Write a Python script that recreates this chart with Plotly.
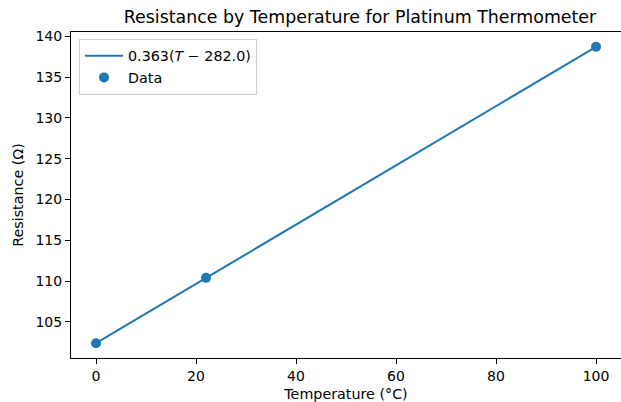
import plotly.graph_objects as go

temps = [0, 22, 100]
resist = [102.4, 110.4, 138.7]
fit_x = [0, 100]
fit_y = [102.4, 138.7]
x_ticks = [0, 20, 40, 60, 80, 100]
y_ticks = [105, 110, 115, 120, 125, 130, 135, 140]

blue = "#1f77b4"
font = "DejaVu Sans"

fig = go.Figure()
fig.add_trace(go.Scatter(x=fit_x, y=fit_y, mode="lines", line=dict(color=blue, width=2),
                         name="0.363(<i>T</i> − 282.0)"))
fig.add_trace(go.Scatter(x=temps, y=resist, mode="markers", marker=dict(color=blue, size=10),
                         name="Data"))

W, H = 621, 402
L, T, R, B = 71, 32, 0, 44
pw = W - L - R
ph = H - T - B

fig.update_layout(
    width=W, height=H,
    margin=dict(l=L, r=R, t=T, b=B, autoexpand=False),
    paper_bgcolor="white", plot_bgcolor="white",
    font=dict(family=font, size=14, color="black"),
    title=dict(text="Resistance by Temperature for Platinum Thermometer",
               x=360 / W, xanchor="center", y=1 - 17 / H, yanchor="middle",
               font=dict(size=17.4, family=font, color="black")),
    showlegend=True,
    legend=dict(x=(79 - L) / pw, y=1 - (39 - T) / ph, xanchor="left", yanchor="top",
                bordercolor="#cccccc", borderwidth=1, bgcolor="rgba(255,255,255,0.8)",
                font=dict(size=14.3, family=font), tracegroupgap=0, itemwidth=38),
    xaxis=dict(range=[-5, 105], tickvals=x_ticks, showgrid=False, zeroline=False,
               automargin=False,
               showline=True, linecolor="black", linewidth=1, mirror=True,
               ticks="outside", ticklen=5, tickcolor="black",
               title=dict(text="Temperature (°C)", standoff=7, font=dict(size=14.3))),
    yaxis=dict(range=[100.585, 140.515], tickvals=y_ticks, showgrid=False, zeroline=False,
               automargin=False,
               showline=True, linecolor="black", linewidth=1,
               ticks="outside", ticklen=5, tickcolor="black",
               title=dict(text="Resistance (Ω)", standoff=8, font=dict(size=14.3))),
)

fig.write_html("out.html", config={"displayModeBar": False})
with open("out.html", encoding="utf-8") as f:
    html = f.read()
html = html.replace("<head>", "<head><style>html,body{margin:0;padding:0;overflow:hidden}</style>", 1)
with open("out.html", "w", encoding="utf-8") as f:
    f.write(html)
